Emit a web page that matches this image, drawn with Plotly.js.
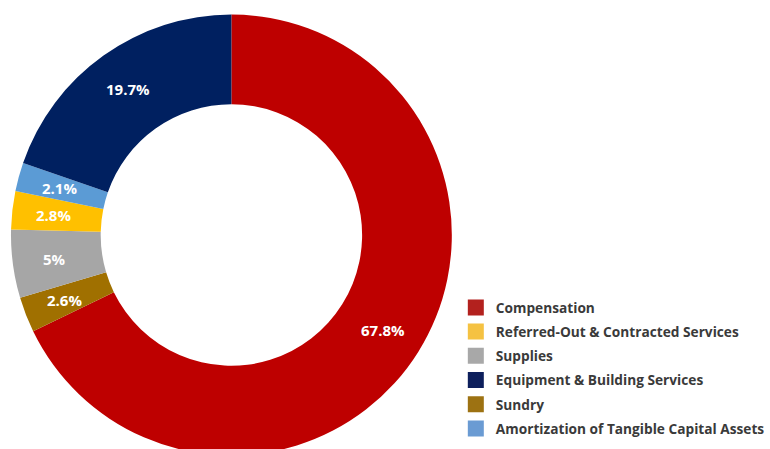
<!DOCTYPE html>
<html>
<head>
<meta charset="utf-8">
<script src="https://cdn.plot.ly/plotly-3.0.1.min.js"></script>
<style>
html,body{margin:0;padding:0;overflow:hidden;background:#fff;width:770px;height:449px;}
#chart{width:770px;height:470px;}
</style>
</head>
<body>
<div id="chart"></div>
<script>
// Slices in drawing order (clockwise from 12 o'clock)
const sliceLabels = ["Compensation", "Sundry", "Supplies", "Referred-Out & Contracted Services", "Amortization of Tangible Capital Assets", "Equipment & Building Services"];
const sliceValues = [67.8, 2.6, 5, 2.8, 2.1, 19.7];
const sliceText = ["67.8%", "2.6%", "5%", "2.8%", "2.1%", "19.7%"];
const sliceColors = ["#BE0000", "#A07000", "#A6A6A6", "#FFC000", "#5B9BD5", "#002060"];

// Legend order
const legendLabels = ["Compensation", "Referred-Out & Contracted Services", "Supplies", "Equipment & Building Services", "Sundry", "Amortization of Tangible Capital Assets"];
const legendColors = ["#B3211E", "#F5C242", "#A8A8A8", "#0D1F5C", "#9D7212", "#6A9BD3"];

const W = 770, H = 470;
const cx = 232, cy = 235, R = 221;
const HOLE = 0.593;

const traces = [{
  type: "pie",
  labels: sliceLabels,
  values: sliceValues,
  textinfo: "none",
  sort: false,
  direction: "clockwise",
  rotation: 0,
  hole: HOLE,
  showlegend: false,
  marker: {colors: sliceColors, line: {width: 0}},
  domain: {x: [(cx - R) / W, (cx + R) / W], y: [(H - cy - R) / H, (H - cy + R) / H]},
  hoverinfo: "label+percent"
}];

legendLabels.forEach((lab, i) => {
  traces.push({
    type: "scatter",
    x: [null], y: [null],
    mode: "markers",
    name: lab,
    legendgroup: "g" + i,
    marker: {symbol: "square", size: 18, color: legendColors[i]},
    showlegend: true,
    hoverinfo: "skip"
  });
});

// Slice labels placed at the middle of each ring sector, computed from the values
const total = sliceValues.reduce((a, b) => a + b, 0);
const rMid = R * (1 + HOLE) / 2 + 3;
let cum = 0;
const annotations = sliceValues.map((v, i) => {
  const mid = (cum + v / 2) / total * 2 * Math.PI;
  cum += v;
  const px = cx + rMid * Math.sin(mid);
  const py = cy - rMid * Math.cos(mid);
  return {
    xref: "paper", yref: "paper",
    x: px / W, y: 1 - py / H,
    xanchor: "center", yanchor: "middle",
    text: sliceText[i],
    showarrow: false,
    font: {family: "Open Sans", size: 15, color: "#ffffff", weight: "bold"}
  };
});

const layout = {
  width: W, height: H,
  margin: {l: 0, r: 0, t: 0, b: 0},
  paper_bgcolor: "#ffffff",
  plot_bgcolor: "rgba(0,0,0,0)",
  xaxis: {visible: false, domain: [0.6, 1]},
  yaxis: {visible: false},
  showlegend: true,
  annotations: annotations,
  legend: {
    x: 457 / W, xanchor: "left",
    y: 1 - 292 / H, yanchor: "top",
    font: {family: "Open Sans", size: 13.7, color: "#3A3A3A", weight: "bold"},
    tracegroupgap: 3.4,
    bgcolor: "rgba(0,0,0,0)"
  }
};

Plotly.newPlot("chart", traces, layout, {displayModeBar: false, staticPlot: true});
</script>
</body>
</html>
